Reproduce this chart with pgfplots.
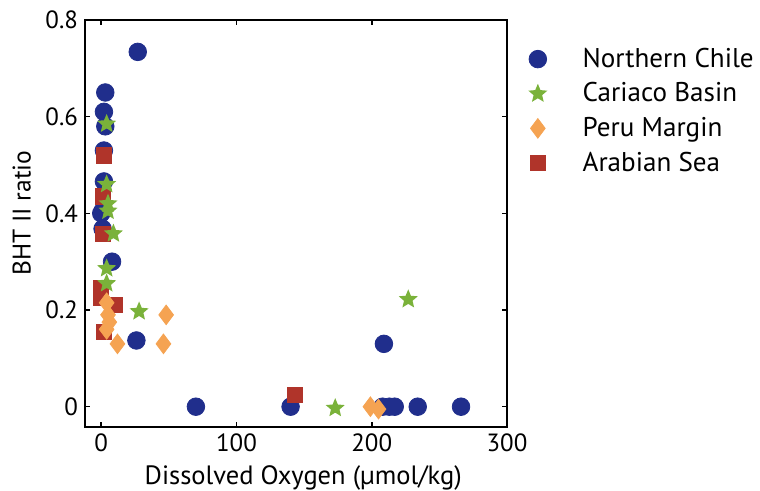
\documentclass[border=0pt]{standalone}
\usepackage{fontspec}
\setmainfont{PT Sans}
\usepackage{pgfplots}
\pgfplotsset{compat=1.18}
\definecolor{chileblue}{RGB}{32,46,140}
\definecolor{cariacogreen}{RGB}{122,178,58}
\definecolor{peruorange}{RGB}{245,163,82}
\definecolor{arabred}{RGB}{176,52,42}

% filled five-point star
\pgfdeclareplotmark{fstar}{%
  \pgfpathmoveto{\pgfpointpolar{90}{\pgfplotmarksize}}%
  \pgfpathlineto{\pgfpointpolar{126}{0.45*\pgfplotmarksize}}%
  \pgfpathlineto{\pgfpointpolar{162}{\pgfplotmarksize}}%
  \pgfpathlineto{\pgfpointpolar{198}{0.45*\pgfplotmarksize}}%
  \pgfpathlineto{\pgfpointpolar{234}{\pgfplotmarksize}}%
  \pgfpathlineto{\pgfpointpolar{270}{0.45*\pgfplotmarksize}}%
  \pgfpathlineto{\pgfpointpolar{306}{\pgfplotmarksize}}%
  \pgfpathlineto{\pgfpointpolar{342}{0.45*\pgfplotmarksize}}%
  \pgfpathlineto{\pgfpointpolar{18}{\pgfplotmarksize}}%
  \pgfpathlineto{\pgfpointpolar{54}{0.45*\pgfplotmarksize}}%
  \pgfpathclose\pgfusepathqfill}

\pgfplotsset{
  chile/.style={only marks, mark=*, mark size=4.4bp, color=chileblue},
  cariaco/.style={only marks, mark=fstar, mark size=5bp, color=cariacogreen},
  peru/.style={only marks, mark=diamond*, mark size=4.9bp, color=peruorange},
  arab/.style={only marks, mark=square*, mark size=3.8bp, color=arabred},
  legmark/.style={legend image code/.code={%
    \draw[##1, only marks] plot coordinates {(0.5cm,0cm)};
    \path[draw=none] (0cm,0cm) -- (1.22cm,0cm);}},
}

\begin{document}
\begin{tikzpicture}
\useasboundingbox (-42.5bp,-32bp) rectangle (337.5bp,213.5bp);
\begin{axis}[
  at={(0,0)}, anchor=south west,
  scale only axis,
  width=211bp, height=203.5bp,
  xmin=-12, xmax=300, ymin=-0.042, ymax=0.8,
  xtick={0,100,200,300}, ytick={0,0.2,0.4,0.6,0.8},
  yticklabels={0,0.2,0.4,0.6,0.8},
  tick align=inside, major tick length=2.5bp,
  axis line style={line width=1bp}, every tick/.style={black, line width=0.8bp},
  /pgf/number format/assume math mode=true,
  ticklabel style={font=\fontsize{12.5}{14}\selectfont},
  xlabel={Dissolved Oxygen (µmol/kg)},
  ylabel={BHT II ratio},
  every axis x label/.style={at={(axis description cs:0.517,-0.125)}, anchor=center,
    font=\fontsize{13.3}{15}\selectfont},
  every axis y label/.style={at={(axis description cs:-0.15,0.525)}, anchor=center,
    rotate=90, font=\fontsize{12.8}{15}\selectfont},
  legend style={at={(axis description cs:1.005,0.942)}, anchor=north west,
    draw=none, fill=none, font=\fontsize{13.6}{15}\selectfont,
    row sep=2.2bp, inner sep=0pt},
  legend cell align=left,
]
\addlegendimage{chile, legmark}
\addlegendentry{Northern Chile}
\addlegendimage{cariaco, legmark}
\addlegendentry{Cariaco Basin}
\addlegendimage{peru, legmark}
\addlegendentry{Peru Margin}
\addlegendimage{arab, legmark}
\addlegendentry{Arabian Sea}

% Northern Chile
\addplot[forget plot, chile]
  coordinates {
    (27,0.734) (3,0.650) (2,0.610) (3,0.580) (2,0.530) (2,0.466)
    (1,0.405) (0,0.400) (1,0.368) (8,0.300) (26,0.137)
    (70,0) (140,0) (209,0.130) (208,0) (213,0) (217,0) (234,0) (266,0)
  };
% Arabian Sea
\addplot[forget plot, arab]
  coordinates {
    (2,0.520) (1,0.435) (1,0.358) (0,0.245) (0,0.225) (10,0.210) (2,0.155)
    (143,0.025)
  };
% Peru Margin
\addplot[forget plot, peru]
  coordinates {
    (4,0.215) (5,0.190) (6,0.175) (4,0.160) (12,0.130)
    (48,0.190) (46,0.130) (199,0) (205,-0.005)
  };
% Cariaco Basin
\addplot[forget plot, cariaco]
  coordinates {
    (4,0.585) (4,0.460) (5,0.420) (5,0.405) (9,0.358) (4,0.286) (4,0.255)
    (28,0.197) (227,0.222) (173,-0.003)
  };
\end{axis}
\end{tikzpicture}
\end{document}
